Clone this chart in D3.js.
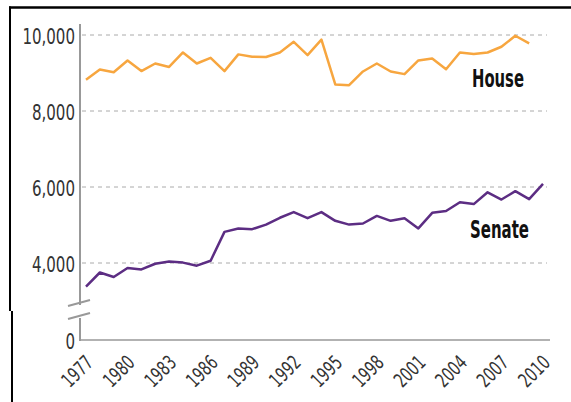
<!DOCTYPE html>
<html>
<head>
<meta charset="utf-8">
<script src="https://cdn.jsdelivr.net/npm/d3@7"></script>
<style>
  body { margin: 0; background: #fff; }
  svg { display: block; }
  .tick text { font-family: "DejaVu Sans Condensed", "DejaVu Sans", sans-serif; font-stretch: condensed; fill: #333; }
</style>
</head>
<body>
<svg width="571" height="402"></svg>
<script>
// years and staff counts
var years = d3.range(1977, 2011);
var house = [8820, 9090, 9020, 9330, 9050, 9250, 9160, 9540, 9250, 9400,
             9050, 9490, 9430, 9420, 9540, 9820, 9470, 9880, 8700, 8680,
             9040, 9250, 9040, 8970, 9330, 9380, 9100, 9540, 9500, 9540,
             9690, 9980, 9780];   // ends 2009
var senate = [3380, 3750, 3630, 3870, 3830, 3980, 4040, 4010, 3930, 4060,
              4820, 4910, 4890, 5010, 5190, 5340, 5180, 5340, 5110, 5010,
              5040, 5240, 5110, 5180, 4910, 5320, 5370, 5600, 5550, 5860,
              5670, 5890, 5680, 6080];
var yTicks = [0, 4000, 6000, 8000, 10000];
var gridTicks = [4000, 6000, 8000, 10000];
var xTicks = d3.range(1977, 2011, 3);

window.onload = function(){ draw() }

// squeeze a label horizontally, the source uses a condensed face
function squeeze(sel, k) {
    sel.each(function() {
        var len = this.getComputedTextLength();
        d3.select(this).attr("textLength", len * k).attr("lengthAdjust", "spacingAndGlyphs");
    });
}

function draw() {
    var svg = d3.select("svg");

    var x = d3.scaleLinear().domain([1977, 2010]).range([86, 543]);
    // broken axis: 0 sits below the break, 3000..10000 is linear
    var y = d3.scaleLinear().domain([0, 3000, 10000]).range([340, 301, 35]);

    // frame
    svg.append("line").attr("x1", 9).attr("x2", 571).attr("y1", 7.5).attr("y2", 7.5)
        .attr("stroke", "#000").attr("stroke-width", 2.5);
    svg.append("line").attr("x1", 10).attr("x2", 10).attr("y1", 6.5).attr("y2", 311)
        .attr("stroke", "#000").attr("stroke-width", 2);
    svg.append("line").attr("x1", 12).attr("x2", 12).attr("y1", 311).attr("y2", 402)
        .attr("stroke", "#000").attr("stroke-width", 2);

    // grid
    svg.append("g").selectAll("line").data(gridTicks).enter().append("line")
        .attr("x1", 82).attr("x2", 547)
        .attr("y1", function(d) { return y(d); })
        .attr("y2", function(d) { return y(d); })
        .attr("stroke", "#aaa").attr("stroke-width", 1)
        .attr("stroke-dasharray", "4,4");

    // y axis
    var yAxis = svg.append("g").attr("transform", "translate(80,0)")
        .call(d3.axisLeft(y).tickValues(yTicks).tickSize(0).tickPadding(5)
            .tickFormat(d3.format(",")));
    yAxis.select(".domain").remove();
    yAxis.selectAll("text").attr("font-size", 22).attr("dy", "0.38em");
    squeeze(yAxis.selectAll("text"), 0.76);

    svg.append("line").attr("x1", 80).attr("x2", 80).attr("y1", 24).attr("y2", 305)
        .attr("stroke", "#999").attr("stroke-width", 2);
    svg.append("line").attr("x1", 80).attr("x2", 80).attr("y1", 318).attr("y2", 341)
        .attr("stroke", "#999").attr("stroke-width", 2);
    // break marks
    svg.append("line").attr("x1", 68).attr("x2", 90).attr("y1", 306).attr("y2", 300)
        .attr("stroke", "#999").attr("stroke-width", 2);
    svg.append("line").attr("x1", 68).attr("x2", 90).attr("y1", 319).attr("y2", 313)
        .attr("stroke", "#999").attr("stroke-width", 2);

    // x axis
    var xAxis = svg.append("g").attr("transform", "translate(0,340)")
        .call(d3.axisBottom(x).tickValues(xTicks).tickSize(0).tickFormat(d3.format("d")));
    xAxis.select(".domain").remove();
    xAxis.selectAll("text")
        .attr("font-size", 20)
        .attr("x", null).attr("y", null).attr("dy", "0.35em")
        .attr("text-anchor", "end")
        .attr("transform", "translate(3,19) rotate(-45)");
    squeeze(xAxis.selectAll("text"), 0.76);
    svg.append("line").attr("x1", 79).attr("x2", 550).attr("y1", 340).attr("y2", 340)
        .attr("stroke", "#999").attr("stroke-width", 1.6);

    var line = d3.line()
        .x(function(d, i) { return x(years[i]); })
        .y(function(d) { return y(d); });

    svg.append("path").datum(house).attr("d", line)
        .attr("fill", "none").attr("stroke", "#f7a63f").attr("stroke-width", 2.5)
        .attr("stroke-linejoin", "round");
    svg.append("path").datum(senate).attr("d", line)
        .attr("fill", "none").attr("stroke", "#5c2d83").attr("stroke-width", 2.5)
        .attr("stroke-linejoin", "round");

    // series labels
    svg.append("text").attr("x", 472).attr("y", 87).text("House")
        .attr("font-family", "'DejaVu Sans Condensed', 'DejaVu Sans', sans-serif")
        .attr("font-weight", "bold").attr("font-size", 25)
        .attr("textLength", 52).attr("lengthAdjust", "spacingAndGlyphs").attr("fill", "#111");
    svg.append("text").attr("x", 470).attr("y", 238).text("Senate")
        .attr("font-family", "'DejaVu Sans Condensed', 'DejaVu Sans', sans-serif")
        .attr("font-weight", "bold").attr("font-size", 25)
        .attr("textLength", 59).attr("lengthAdjust", "spacingAndGlyphs").attr("fill", "#111");
}
</script>
</body>
</html>
